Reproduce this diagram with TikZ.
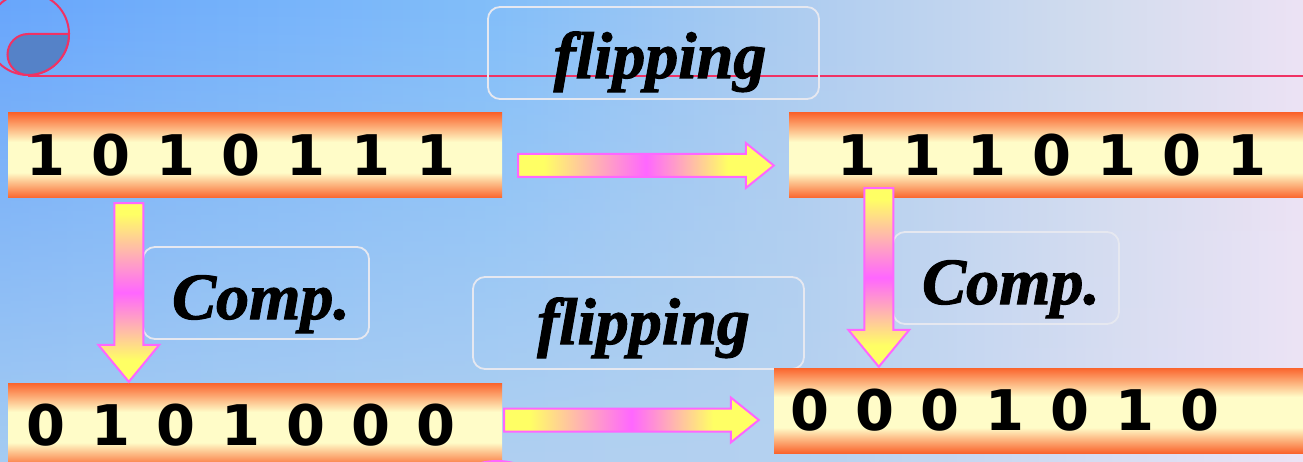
\documentclass[tikz,border=0pt]{standalone}
\usepackage{fontspec}
\setmainfont{Liberation Serif}
\newfontfamily\bitfont{DejaVu Sans}
\newfontfamily\lblfont{Liberation Serif}[BoldItalicFeatures={FakeBold=1.6}]
\usepackage{tikz}
\usetikzlibrary{calc,fadings}

\definecolor{bgtopA}{RGB}{104,166,252}
\definecolor{bgtopB}{RGB}{130,190,250}
\definecolor{bgtopC}{RGB}{175,205,240}
\definecolor{bgtopD}{RGB}{210,220,238}
\definecolor{bgtopE}{RGB}{236,226,244}
\definecolor{bgbotA}{RGB}{165,204,242}
\definecolor{bgbotC}{RGB}{182,210,240}
\definecolor{bgbotE}{RGB}{236,228,245}
\definecolor{decoline}{RGB}{240,50,100}
\definecolor{decofill}{RGB}{85,130,200}
\definecolor{barorange}{RGB}{250,100,45}
\definecolor{barcream}{RGB}{255,252,200}
\definecolor{arrowyel}{RGB}{255,255,100}
\definecolor{arrowmag}{RGB}{255,102,255}
\definecolor{boxline}{RGB}{230,232,240}

\pgfdeclarehorizontalshading{bgtop}{100bp}{color(0bp)=(bgtopA); color(25bp)=(bgtopA);
  color(44bp)=(bgtopB); color(56bp)=(bgtopC); color(67bp)=(bgtopD); color(75bp)=(bgtopE); color(100bp)=(bgtopE)}
\pgfdeclarehorizontalshading{bgbot}{100bp}{color(0bp)=(bgbotA); color(25bp)=(bgbotA);
  color(56bp)=(bgbotC); color(75bp)=(bgbotE); color(100bp)=(bgbotE)}
\pgfdeclareverticalshading{barshade}{100bp}{color(0bp)=(barorange); color(25bp)=(barorange);
  color(40bp)=(barcream); color(58bp)=(barcream); color(75bp)=(barorange); color(100bp)=(barorange)}
\pgfdeclarehorizontalshading{harrowshade}{100bp}{color(0bp)=(arrowyel); color(30bp)=(arrowyel);
  color(50bp)=(arrowmag); color(66bp)=(arrowyel); color(100bp)=(arrowyel)}
\pgfdeclareverticalshading{varrowshade}{100bp}{color(0bp)=(arrowyel); color(31bp)=(arrowyel);
  color(50bp)=(arrowmag); color(72bp)=(arrowyel); color(100bp)=(arrowyel)}

\newcommand{\fatH}[2]{\path[fatarrow,shading=harrowshade]
  ($(#1)+(0,-11.5)$) -- ($(#2)+(-28,-11.5)$) -- ($(#2)+(-28,-22.5)$) -- (#2)
  -- ($(#2)+(-28,22.5)$) -- ($(#2)+(-28,11.5)$) -- ($(#1)+(0,11.5)$) -- cycle;}
\newcommand{\fatV}[2]{\path[fatarrow,shading=varrowshade]
  ($(#1)+(-14.5,0)$) -- ($(#2)+(-14.5,-37)$) -- ($(#2)+(-30.5,-37)$) -- (#2)
  -- ($(#2)+(30.5,-37)$) -- ($(#2)+(14.5,-37)$) -- ($(#1)+(14.5,0)$) -- cycle;}

\begin{document}
\begin{tikzpicture}[x=1pt,y=-1pt,
    bar/.style={shade,shading=barshade,minimum height=85pt,inner sep=0pt},
    bit/.style={font=\bitfont\bfseries\fontsize{56}{60}\selectfont,inner sep=0pt},
    lblbox/.style={draw=boxline,line width=1.8pt,rounded corners=12pt,minimum height=92pt},
    lbl/.style={font=\lblfont\bfseries\itshape\fontsize{66}{70}\selectfont,inner sep=0pt,anchor=base},
    fatarrow/.style={draw=arrowmag,line width=2pt,shade}]

  \useasboundingbox (0,0) rectangle (1303,462);
  \clip (0,0) rectangle (1303,462);
  \path[shade,shading=bgtop] (0,0) rectangle (1303,462);
  \path[shade,shading=bgbot,path fading=north] (0,0) rectangle (1303,462);

  \draw[decoline,line width=2pt] (28,34) circle[radius=41];
  \filldraw[fill=decofill,draw=decoline,line width=2pt] (28,34) -- (69,34)
    arc[start angle=0,end angle=90,radius=41] arc[start angle=90,end angle=270,radius=20.5] -- cycle;
  \draw[decoline,line width=2pt] (28,76.5) -- (1303,76.5);

  \node[lblbox,minimum width=331pt] (flipTbox) at (653.5,53) {};
  \node[lbl] (flipT) at (660,78) {flipping};
  \node[lblbox,minimum width=331pt] (flipBbox) at (638.5,323) {};
  \node[lbl] (flipB) at (643.5,344) {flipping};
  \node[lblbox,minimum width=226pt] (compLbox) at (256,293) {};
  \node[lbl] (compL) at (261,319) {Comp.};
  \node[lblbox,minimum width=226pt] (compRbox) at (1006,278) {};
  \node[lbl] (compR) at (1011,304) {Comp.};

  \node[bar,minimum width=494pt] (b1) at (255,155.5) {};
  \node[bar,minimum width=520pt] (b2) at (1049,155.5) {};
  \node[bar,minimum width=494pt] (b3) at (255,425.5) {};
  \node[bar,minimum width=530pt] (b4) at (1039,410.5) {};

  \foreach \d [count=\i] in {1,0,1,0,1,1,1}
    \node[bit] (b1d\i) at ($(b1.west)+(-27+65*\i,0)$) {\d};
  \foreach \d [count=\i] in {1,1,1,0,1,0,1}
    \node[bit] (b2d\i) at ($(b2.west)+(3+65*\i,0)$) {\d};
  \foreach \d [count=\i] in {0,1,0,1,0,0,0}
    \node[bit] (b3d\i) at ($(b3.west)+(-27+65*\i,0)$) {\d};
  \foreach \d [count=\i] in {0,0,0,1,0,1,0}
    \node[bit] (b4d\i) at ($(b4.west)+(-29+65*\i,0)$) {\d};

  \fill[arrowmag!85!magenta,draw=arrowmag,line width=2pt] (497,492) ellipse[x radius=46,y radius=31];

  \coordinate (h1s) at ($(b1.east)+(16,10)$);
  \coordinate (h1e) at ($(h1s -| b2.west)+(-15,0)$);
  \coordinate (h2s) at ($(b3.east)+(2,-5.5)$);
  \coordinate (h2e) at ($(h2s -| b4.west)+(-15,0)$);
  \coordinate (v1s) at ($(b1.south west)+(121,5)$);
  \coordinate (v1e) at ($(v1s |- b3.north)+(0,-1)$);
  \coordinate (v2s) at ($(b2.south west)+(90,-10)$);
  \coordinate (v2e) at ($(v2s |- b4.north)+(0,-1)$);
  \fatH{h1s}{h1e}
  \fatH{h2s}{h2e}
  \fatV{v1s}{v1e}
  \fatV{v2s}{v2e}
\end{tikzpicture}
\end{document}
